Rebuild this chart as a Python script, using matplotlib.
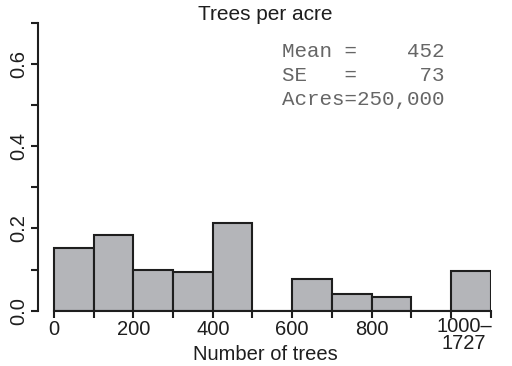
import matplotlib
matplotlib.use("Agg")
import matplotlib.pyplot as plt

bin_left = [0, 100, 200, 300, 400, 500, 600, 700, 800, 900, 1000]
bin_width = 100
proportion = [0.153, 0.185, 0.100, 0.094, 0.213, 0.0, 0.078, 0.041, 0.034, 0.0, 0.096]
x_ticks = [0, 100, 200, 300, 400, 500, 600, 700, 800, 900, 1000, 1100]
x_tick_labels = ["0", "", "200", "", "400", "", "600", "", "800", "", "", ""]
y_ticks = [0.0, 0.1, 0.2, 0.3, 0.4, 0.5, 0.6, 0.7]
y_tick_labels = ["0.0", "", "0.2", "", "0.4", "", "0.6", ""]
stats_lines = ["Mean =    452", "SE   =     73", "Acres=250,000"]

plt.rcParams["font.family"] = ["Liberation Sans", "DejaVu Sans"]
ink = "#1e1e1e"

fig = plt.figure(figsize=(5.12, 3.66), dpi=100)
ax = fig.add_axes([0.0736, 0.151, 0.8848, 0.787])

ax.bar(bin_left, proportion, width=bin_width, align="edge",
       color="#b4b5b9", edgecolor=ink, linewidth=1.5, zorder=2)

ax.set_xlim(-41, 1100)
ax.set_ylim(0, 0.7)
for side in ("top", "right"):
    ax.spines[side].set_visible(False)
ax.spines["left"].set_bounds(0, 0.7)
ax.spines["bottom"].set_bounds(0, 1100)
for side in ("left", "bottom"):
    ax.spines[side].set_linewidth(1.5)
    ax.spines[side].set_color(ink)
    ax.spines[side].set_zorder(3)

ax.set_xticks(x_ticks)
ax.set_xticklabels(x_tick_labels)
ax.set_yticks(y_ticks)
ax.set_yticklabels(y_tick_labels, rotation=90, va="center")
ax.tick_params(axis="both", length=5, width=1.5, color=ink,
               labelsize=14.5, labelcolor=ink, pad=1.5)

ax.annotate("1000\u2013\n1727", xy=(1033, 0), xycoords=("data", "axes fraction"),
            xytext=(0, -6), textcoords="offset pixels",
            ha="center", va="top", multialignment="center",
            fontsize=14.5, color=ink, linespacing=0.9)

fig.text(0.518, (366 - 360) / 366, "Number of trees", ha="center",
         va="baseline", fontsize=14.5, color=ink)
fig.text(0.518, 0.985, "Trees per acre", ha="center", va="top",
         fontsize=15, color=ink)
fig.text(0.55, 0.885, "\n".join(stats_lines), ha="left", va="top",
         family="Liberation Mono", fontsize=15, color="#666666",
         linespacing=1.33)

fig.savefig("out.png", dpi=100)
